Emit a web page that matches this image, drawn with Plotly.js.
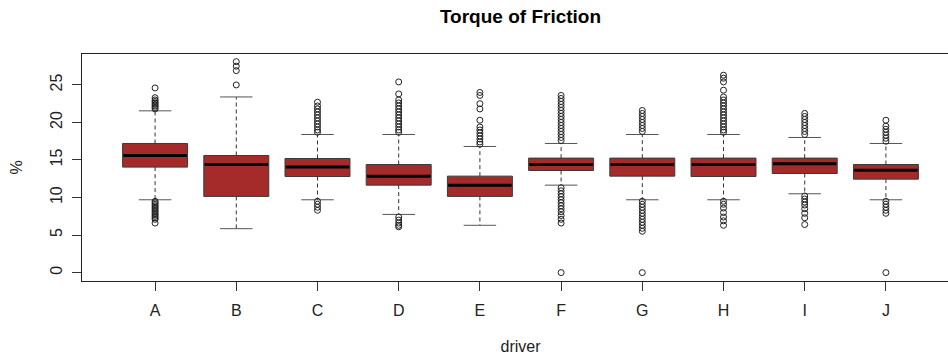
<!DOCTYPE html>
<html>
<head>
<meta charset="utf-8">
<script src="https://cdn.plot.ly/plotly-3.0.1.min.js"></script>
<style>
html, body { margin: 0; padding: 0; overflow: hidden; background: #fff; }
#chart { width: 962px; height: 360px; }
</style>
</head>
<body>
<div id="chart"></div>
<script>
// ---- data ----
const drivers = ["A", "B", "C", "D", "E", "F", "G", "H", "I", "J"];
const q1      = [14.05, 10.15, 12.8, 11.65, 10.15, 13.6, 12.85, 12.8, 13.2, 12.45];
const medians = [15.6, 14.4, 14.05, 12.85, 11.65, 14.4, 14.4, 14.4, 14.5, 13.65];
const q3      = [17.2, 15.6, 15.2, 14.4, 12.85, 15.25, 15.25, 15.25, 15.25, 14.4];
const lowerWhisker = [9.7, 5.85, 9.7, 7.75, 6.3, 11.65, 9.7, 9.7, 10.5, 9.7];
const upperWhisker = [21.55, 23.4, 18.4, 18.4, 16.8, 17.2, 18.4, 18.4, 18.0, 17.2];
const outliers = [
  [24.6, 23.3, 23.0, 22.8, 22.6, 22.4, 22.2, 22.0, 21.8,
   9.5, 9.3, 9.1, 8.9, 8.7, 8.5, 8.3, 8.1, 7.9, 7.7, 7.5, 7.3, 7.1, 6.6],
  [28.1, 27.5, 26.9, 25.0],
  [22.7, 22.2, 21.8, 21.4, 21.0, 20.6, 20.2, 19.8, 19.4, 19.0, 18.7,
   9.5, 9.1, 8.7, 8.3],
  [25.4, 23.8, 23.0, 22.6, 22.2, 21.8, 21.4, 21.0, 20.6, 20.2, 19.8, 19.4, 19.0, 18.7,
   7.4, 7.0, 6.6, 6.3, 6.1],
  [24.0, 23.6, 22.5, 21.8, 20.3, 19.4, 19.0, 18.6, 18.2, 17.8, 17.4, 17.1],
  [23.6, 23.2, 22.8, 22.4, 22.0, 21.6, 21.2, 20.8, 20.4, 20.0, 19.6, 19.2, 18.8, 18.4, 18.0, 17.6,
   11.3, 10.9, 10.5, 10.1, 9.7, 9.3, 8.9, 8.5, 8.1, 7.6, 7.1, 6.6, 0.0],
  [21.6, 21.2, 20.8, 20.4, 20.0, 19.6, 19.2, 18.8,
   9.5, 9.1, 8.7, 8.3, 7.9, 7.5, 7.1, 6.7, 6.3, 5.9, 5.5, 0.0],
  [26.3, 25.9, 25.4, 24.3, 23.4, 23.0, 22.6, 22.2, 21.8, 21.4, 21.0, 20.6, 20.2, 19.8, 19.4, 19.0, 18.7,
   9.5, 9.1, 8.6, 8.0, 7.4, 6.9, 6.3],
  [21.2, 20.8, 20.4, 20.0, 19.6, 19.2, 18.8, 18.4,
   10.2, 9.8, 9.4, 9.0, 8.5, 7.9, 7.3, 6.4],
  [20.3, 19.5, 19.1, 18.7, 18.3, 17.9, 17.5,
   9.5, 9.1, 8.7, 8.3, 7.9, 0.0]
];
const yTicks = [0, 5, 10, 15, 20, 25];

// ---- build traces ----
const pos = drivers.map((d, i) => i + 1);
const boxHalf = 0.4, capHalf = 0.2;

const boxTrace = {
  type: "box",
  x: pos,
  q1: q1, median: medians, q3: q3,
  lowerfence: q1, upperfence: q3,
  width: 2 * boxHalf,
  whiskerwidth: 0,
  fillcolor: "#A52A2A",
  line: { color: "#3a3a3a", width: 1 },
  boxpoints: false,
  hoverinfo: "skip",
  showlegend: false
};

const wx = [], wy = [];
const cx = [], cy = [];
const mx = [], my = [];
const ox = [], oy = [];
pos.forEach((p, i) => {
  wx.push(p, p, null, p, p, null);
  wy.push(q3[i], upperWhisker[i], null, q1[i], lowerWhisker[i], null);
  cx.push(p - capHalf, p + capHalf, null, p - capHalf, p + capHalf, null);
  cy.push(upperWhisker[i], upperWhisker[i], null, lowerWhisker[i], lowerWhisker[i], null);
  mx.push(p - boxHalf + 0.01, p + boxHalf - 0.01, null);
  my.push(medians[i], medians[i], null);
  outliers[i].forEach(v => { ox.push(p); oy.push(v); });
});

const whiskers = {
  type: "scatter", mode: "lines", x: wx, y: wy,
  line: { color: "#333", width: 1, dash: "4px,3px" },
  hoverinfo: "skip", showlegend: false
};
const caps = {
  type: "scatter", mode: "lines", x: cx, y: cy,
  line: { color: "#555", width: 1 },
  hoverinfo: "skip", showlegend: false
};
const medLines = {
  type: "scatter", mode: "lines", x: mx, y: my,
  line: { color: "#000", width: 3 },
  hoverinfo: "skip", showlegend: false
};
const outPts = {
  type: "scatter", mode: "markers", x: ox, y: oy,
  marker: { symbol: "circle-open", size: 6, color: "#222", line: { width: 1 } },
  hoverinfo: "skip", showlegend: false
};

const font = "Liberation Sans, Arial, sans-serif";
const layout = {
  width: 962, height: 360,
  margin: { l: 82, r: 3, t: 54, b: 79 },
  paper_bgcolor: "#fff", plot_bgcolor: "#fff",
  font: { family: font, size: 16, color: "#222" },
  title: {
    text: "<b>Torque of Friction</b>",
    font: { family: font, size: 19, color: "#000" },
    x: 0.5, xref: "paper", y: 0.955, yanchor: "middle"
  },
  xaxis: {
    range: [0.1, 10.9],
    tickvals: pos, ticktext: drivers,
    ticks: "outside", ticklen: 9, tickcolor: "#333", tickwidth: 1,
    showline: true, mirror: true, linecolor: "#222", linewidth: 1,
    showgrid: false, zeroline: false,
    tickfont: { size: 16, color: "#222" },
    ticklabelstandoff: 6,
    title: { text: "driver", font: { size: 16, color: "#222" }, standoff: 22 }
  },
  yaxis: {
    range: [-1.12, 29.12],
    tickvals: yTicks, ticktext: yTicks.map(String),
    tickangle: -90,
    ticks: "outside", ticklen: 9, tickcolor: "#333", tickwidth: 1,
    showline: true, mirror: true, linecolor: "#222", linewidth: 1,
    showgrid: false, zeroline: false,
    tickfont: { size: 16, color: "#222" },
    ticklabelstandoff: 4,
    title: { text: "%", font: { size: 16, color: "#222" }, standoff: 20 }
  }
};

Plotly.newPlot("chart", [boxTrace, whiskers, caps, medLines, outPts], layout, { staticPlot: true, displayModeBar: false });
</script>
</body>
</html>
